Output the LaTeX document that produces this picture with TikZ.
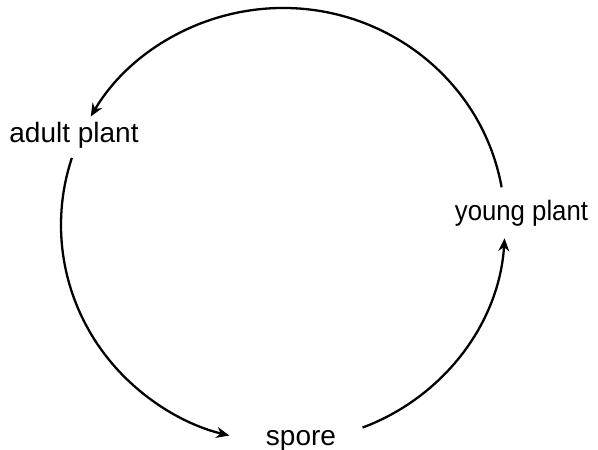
\documentclass[tikz,border=0pt]{standalone}
\usepackage{fontspec}
\setmainfont{Liberation Sans}
\usetikzlibrary{arrows.meta,calc}
\begin{document}
\begin{tikzpicture}[x=1pt,y=-1pt,
  lbl/.style={font=\fontsize{28}{32}\selectfont, anchor=base, inner sep=0pt},
  cyc/.style={line width=2.3pt, -{Stealth[length=13pt,width=11pt]}}]
\useasboundingbox (0,0) rectangle (598,450);
\coordinate (c) at (283,225);
\node[lbl] (adult) at (74,142) {adult plant};
\node[lbl, xscale=0.92] (young) at (521.5,220) {young plant};
\node[lbl] (spore) at (301,445) {spore};
% arc start points on the ellipse (rx=222, ry=217), y axis pointing down
\coordinate (s1) at ($(c)+({222*cos(10)},{-217*sin(10)})$);
\coordinate (s2) at ($(c)+({222*cos(162)},{-217*sin(162)})$);
\coordinate (s3) at ($(c)+({222*cos(-69)},{-217*sin(-69)})$);
\draw[cyc] (s1) arc[start angle=-10, end angle=-150, x radius=222, y radius=217];
\draw[cyc] (s2) arc[start angle=-162, end angle=-256, x radius=222, y radius=217];
\draw[cyc] (s3) arc[start angle=69, end angle=3.5, x radius=222, y radius=217];
\end{tikzpicture}
\end{document}
